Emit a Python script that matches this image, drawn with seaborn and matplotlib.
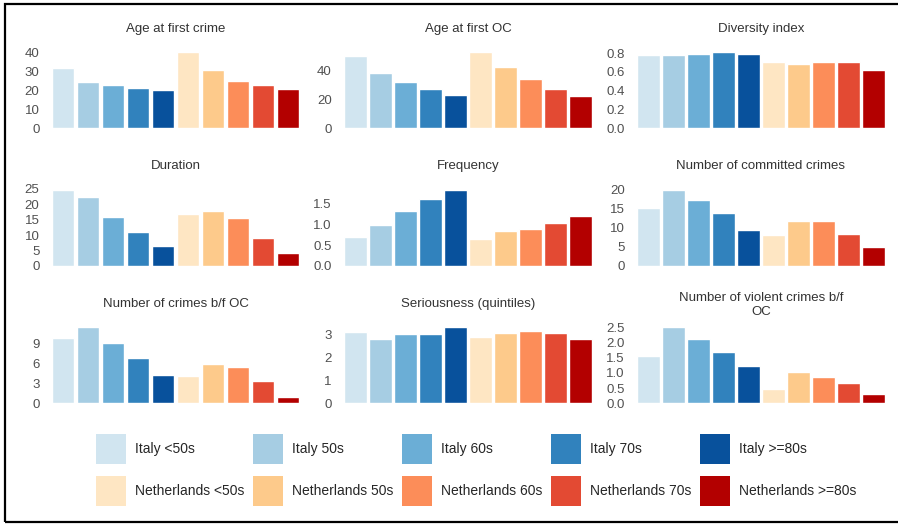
import pandas as pd
import seaborn as sns
import matplotlib.pyplot as plt
from matplotlib.patches import Patch, Rectangle

# data
groups = ['Italy <50s', 'Italy 50s', 'Italy 60s', 'Italy 70s', 'Italy >=80s',
          'Netherlands <50s', 'Netherlands 50s', 'Netherlands 60s',
          'Netherlands 70s', 'Netherlands >=80s']

titles = ['Age at first crime', 'Age at first OC', 'Diversity index',
          'Duration', 'Frequency', 'Number of committed crimes',
          'Number of crimes b/f OC', 'Seriousness (quintiles)',
          'Number of violent crimes b/f\nOC']

age_first_crime = [31.7, 24.5, 22.7, 21.2, 20.1, 40.2, 30.5, 24.9, 23.1, 20.6]
age_first_oc = [50.4, 38.8, 32.1, 27.0, 23.2, 53.0, 42.3, 34.2, 27.6, 22.3]
diversity = [0.78, 0.78, 0.795, 0.81, 0.79, 0.70, 0.68, 0.71, 0.70, 0.62]
duration = [24.7, 22.5, 15.9, 10.9, 6.4, 16.9, 17.9, 15.5, 9.0, 4.1]
frequency = [0.69, 0.99, 1.34, 1.62, 1.84, 0.65, 0.85, 0.89, 1.03, 1.20]
committed = [15.2, 20.0, 17.2, 13.9, 9.5, 8.2, 11.7, 11.8, 8.5, 4.9]
crimes_bf_oc = [9.8, 11.5, 9.05, 6.8, 4.3, 4.1, 6.0, 5.5, 3.4, 0.9]
seriousness = [3.11, 2.79, 3.04, 3.04, 3.32, 2.87, 3.08, 3.13, 3.07, 2.82]
violent_bf_oc = [1.55, 2.5, 2.12, 1.67, 1.23, 0.48, 1.04, 0.86, 0.66, 0.30]

series = [age_first_crime, age_first_oc, diversity, duration, frequency,
          committed, crimes_bf_oc, seriousness, violent_bf_oc]

yticks = [[0, 10, 20, 30, 40], [0, 20, 40], [0, 0.2, 0.4, 0.6, 0.8],
          [0, 5, 10, 15, 20, 25], [0, 0.5, 1.0, 1.5], [0, 5, 10, 15, 20],
          [0, 3, 6, 9], [0, 1, 2, 3], [0, 0.5, 1.0, 1.5, 2.0, 2.5]]
ytick_fmt = ['{:.0f}', '{:.0f}', '{:.1f}', '{:.0f}', '{:.1f}', '{:.0f}',
             '{:.0f}', '{:.0f}', '{:.1f}']

colors = ['#d1e5f0', '#a6cde3', '#6baed6', '#3182bd', '#08519c',
          '#fee6c3', '#fdca8b', '#fc8d59', '#e34a33', '#b30000']
palette = dict(zip(groups, colors))

#%% style
sns.set_theme(style='white')
plt.rcParams['font.family'] = ['Liberation Sans', 'DejaVu Sans']
plt.rcParams['ytick.major.size'] = 0
plt.rcParams['ytick.major.pad'] = 8
plt.rcParams['ytick.labelsize'] = 9.5
plt.rcParams['ytick.color'] = '#505050'

fig = plt.figure(figsize=(8.98, 5.24), dpi=100)
W, H = 898, 524
col_left = [50.5, 343, 636]
row_bottom = [128.3, 266, 403.3]
ax_w, ax_h = 250, 80

for i, (title, vals) in enumerate(zip(titles, series)):
    r, c = divmod(i, 3)
    ax = fig.add_axes([col_left[c] / W, 1 - row_bottom[r] / H, ax_w / W, ax_h / H])
    df = pd.DataFrame({'group': groups, 'value': vals})
    sns.barplot(data=df, x='group', y='value', hue='group', palette=palette,
                order=groups, hue_order=groups, width=0.9, legend=False,
                saturation=1, ax=ax)
    ax.set_xlim(-0.5, 9.5)
    ax.set_xlabel('')
    ax.set_ylabel('')
    ax.set_xticks([])
    ax.set_yticks(yticks[i])
    ax.set_yticklabels([ytick_fmt[i].format(t) for t in yticks[i]])
    pad = 6 if '\n' in title else 12
    ax.set_title(title, fontsize=9.5, color='#333333', pad=pad)
    sns.despine(ax=ax, left=True, bottom=True)

handles = [Patch(facecolor=palette[g], edgecolor='none', label=g) for g in groups]
# two rows (Italy / Netherlands), five columns
order = []
for k in range(5):
    order += [handles[k], handles[k + 5]]
fig.legend(handles=order, loc='upper left', ncol=5, frameon=False,
           bbox_to_anchor=(96 / W, 1 - 434 / H), borderaxespad=0, borderpad=0,
           fontsize=10, handlelength=2.16, handleheight=2.94,
           handletextpad=0.65, columnspacing=0.61, labelspacing=0.86)

# black frame around the figure (right side runs off the image)
fig.patches.append(Rectangle((5 / W, 1 - 522 / H), 1.2, (522 - 3.7) / H,
                             transform=fig.transFigure, fill=False,
                             edgecolor='black', linewidth=1.6))

fig.savefig('out.png', dpi=100)
